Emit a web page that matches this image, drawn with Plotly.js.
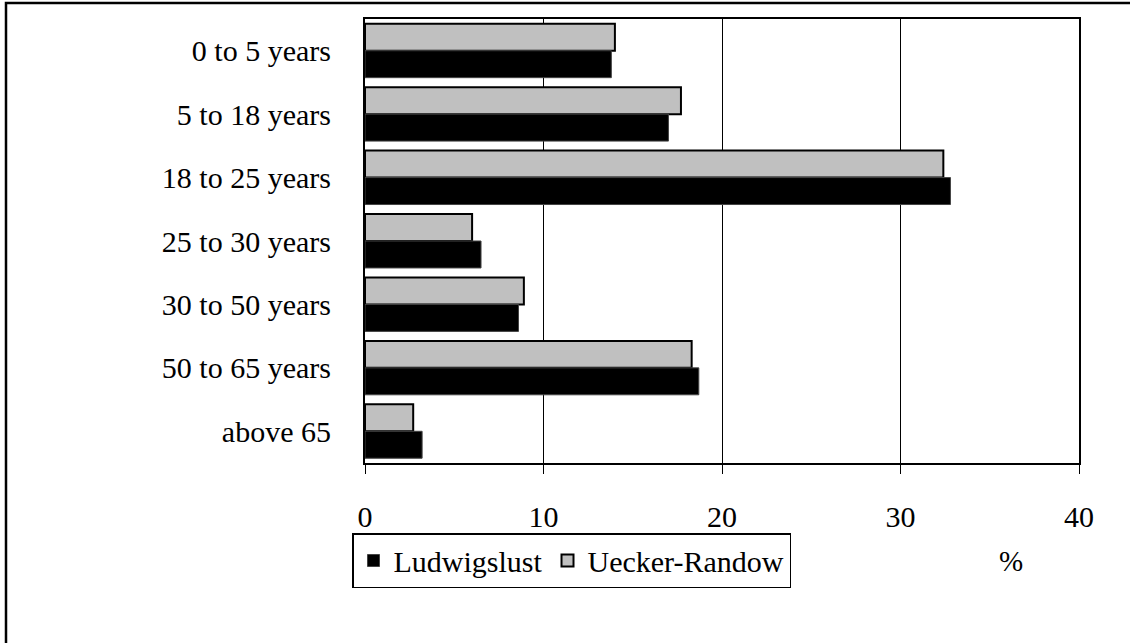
<!DOCTYPE html>
<html>
<head>
<meta charset="utf-8">
<script src="https://cdn.plot.ly/plotly-3.0.1.min.js"></script>
<style>
  html, body { margin: 0; padding: 0; background: #fff; }
  #chart { width: 1130px; height: 643px; }
</style>
</head>
<body>
<div id="chart"></div>
<script>
const categories = ["0 to 5 years", "5 to 18 years", "18 to 25 years", "25 to 30 years", "30 to 50 years", "50 to 65 years", "above 65"];
const ludwigslust = [13.8, 17.0, 32.8, 6.5, 8.6, 18.7, 3.2];
const ueckerRandow = [14.0, 17.7, 32.4, 6.0, 8.9, 18.3, 2.7];
const xTicks = [0, 10, 20, 30, 40];

const FONT = "Liberation Serif, Times New Roman, serif";

const traces = [
  {
    type: "bar", orientation: "h", name: "Uecker-Randow",
    y: categories, x: ueckerRandow,
    marker: { color: "#c0c0c0", line: { color: "#000", width: 2 } },
    hoverinfo: "x+name"
  },
  {
    type: "bar", orientation: "h", name: "Ludwigslust",
    y: categories, x: ludwigslust,
    marker: { color: "#000000", line: { color: "#444", width: 1 } },
    hoverinfo: "x+name"
  }
];

const L = 365, R = 1079, T = 19, B = 463;
const pw = R - L, ph = B - T;
const px = v => (v - L) / pw;
const py = v => (B - v) / ph;

const layout = {
  width: 1130, height: 643,
  margin: { l: L, r: 1130 - R, t: T, b: 643 - B, pad: 0 },
  paper_bgcolor: "#fff", plot_bgcolor: "#fff",
  font: { family: FONT, size: 30, color: "#000" },
  barmode: "group", bargap: 0.15, bargroupgap: 0,
  showlegend: true,
  legend: {
    orientation: "h", traceorder: "reversed",
    x: px(352), y: py(533), xanchor: "left", yanchor: "top",
    bordercolor: "#000", borderwidth: 1.5, bgcolor: "#fff",
    font: { family: FONT, size: 30, color: "#000" },
    itemwidth: 30, tracegroupgap: 0
  },
  xaxis: {
    range: [0, 40], tickvals: xTicks, ticktext: xTicks.map(String),
    showgrid: true, gridcolor: "#000", gridwidth: 1,
    zeroline: false,
    showline: true, linecolor: "#000", linewidth: 2, mirror: true,
    ticks: "outside", ticklen: 9, tickwidth: 1, tickcolor: "#000",
    ticklabelstandoff: 17,
    tickfont: { family: FONT, size: 30, color: "#000" },
    fixedrange: true
  },
  yaxis: {
    type: "category", autorange: "reversed",
    showgrid: false, zeroline: false,
    showline: true, linecolor: "#000", linewidth: 2, mirror: true,
    ticks: "", ticklabelstandoff: 26,
    tickfont: { family: FONT, size: 30, color: "#000" },
    fixedrange: true
  },
  annotations: [
    {
      text: "%", xref: "paper", yref: "paper",
      x: px(1011), y: py(561), xanchor: "center", yanchor: "middle",
      showarrow: false, font: { family: FONT, size: 29, color: "#000" }
    }
  ],
  shapes: [
    {
      type: "rect", xref: "paper", yref: "paper", layer: "below",
      x0: px(6), x1: px(1140), y0: py(660), y1: py(3),
      line: { color: "#000", width: 2.5 }, fillcolor: "rgba(0,0,0,0)"
    }
  ]
};

Plotly.newPlot("chart", traces, layout, { displayModeBar: false, staticPlot: true });
</script>
</body>
</html>
